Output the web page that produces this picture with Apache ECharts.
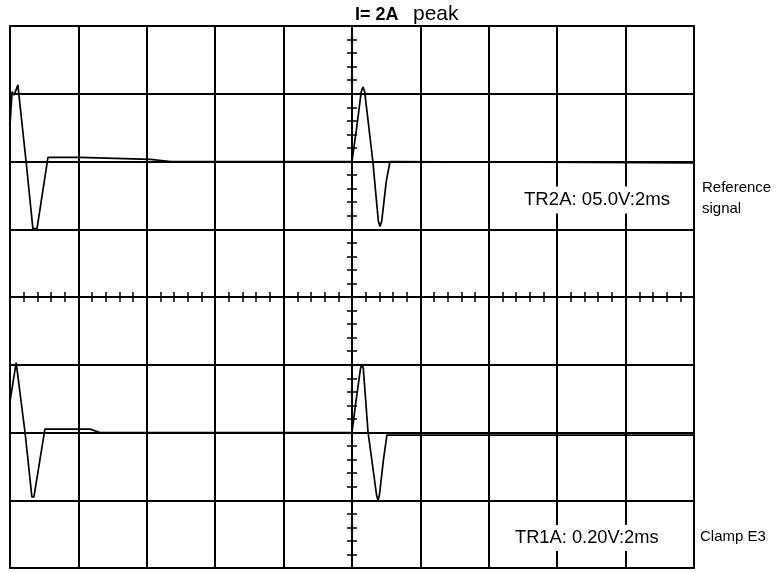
<!DOCTYPE html>
<html>
<head>
<meta charset="utf-8">
<script src="https://cdn.jsdelivr.net/npm/echarts@6/dist/echarts.min.js"></script>
<style>
html,body{margin:0;padding:0;background:#fff;}
#chart{width:782px;height:573px;}
</style>
</head>
<body>
<div id="chart"></div>
<script>
// Time axis: ms (2 ms/div), trigger at centre
const xMin = -10, xMax = 10, xStep = 2;
// Vertical axis: divisions
const yMin = -4, yMax = 4, yStep = 1;

// Reference signal (TR2A, 5.0 V/div)
const topT = [-10, -9.94, -9.88, -9.77, -9.53, -9.33, -9.21, -8.89, -7.95, -5.9, -5.3, 0.0, 0.15, 0.27, 0.32, 0.37, 0.61, 0.77, 0.82, 0.87, 1.0, 1.11, 10];
const topV = [2.53, 3.03, 2.98, 3.13, 2.0, 1.01, 1.01, 2.06, 2.06, 2.03, 2.0, 2.0, 2.55, 3.03, 3.1, 3.03, 2.0, 1.12, 1.04, 1.12, 1.7, 2.0, 1.98];

// Clamp E3 (TR1A, 0.20 V/div)
const botT = [-10, -9.82, -9.56, -9.36, -9.30, -8.98, -7.66, -7.37, 0.0, 0.1, 0.25, 0.29, 0.33, 0.47, 0.72, 0.76, 0.80, 0.92, 1.02, 10];
const botV = [-1.54, -0.97, -2.0, -2.95, -2.95, -1.95, -1.95, -2.0, -2.0, -1.6, -1.05, -1.0, -1.05, -2.0, -2.93, -3.0, -2.93, -2.4, -2.04, -2.04];

const titleMain = 'I= 2A';
const titleSub = 'peak';
const topScale = 'TR2A: 05.0V:2ms';
const botScale = 'TR1A: 0.20V:2ms';
const topName = ['Reference', 'signal'];
const botName = 'Clamp E3';

const pairs = (t, v) => t.map((x, i) => [x, v[i]]);

const black = '#000';
const tickStyle = { color: black, width: 1.5 };
function centreAxis(base) {
  return Object.assign({
    type: 'value',
    axisLine: { show: true, onZero: true, onZeroAxisIndex: 0, lineStyle: { color: black, width: 2 } },
    axisTick: { show: true, length: 5, lineStyle: tickStyle },
    minorTick: { show: true, splitNumber: 5, length: 5, lineStyle: tickStyle },
    axisLabel: { show: false },
    splitLine: { show: false }
  }, base);
}
const gridSplit = { show: true, lineStyle: { color: black, width: 2 } };

const chart = echarts.init(document.getElementById('chart'), null, { renderer: 'canvas' });
chart.setOption({
  animation: false,
  backgroundColor: '#fff',
  grid: { left: 10, right: 88, top: 26, bottom: 5, show: true, borderColor: black, borderWidth: 2, containLabel: false },
  xAxis: [
    centreAxis({ min: xMin, max: xMax, interval: xStep, position: 'bottom', splitLine: gridSplit }),
    centreAxis({ min: xMin, max: xMax, interval: xStep, position: 'top' })
  ],
  yAxis: [
    centreAxis({ min: yMin, max: yMax, interval: yStep, position: 'left', splitLine: gridSplit }),
    centreAxis({ min: yMin, max: yMax, interval: yStep, position: 'right' })
  ],
  series: [
    { type: 'line', data: pairs(topT, topV), xAxisIndex: 0, yAxisIndex: 0, showSymbol: false, symbol: 'none',
      lineStyle: { color: black, width: 1.7 }, z: 5 },
    { type: 'line', data: pairs(botT, botV), xAxisIndex: 0, yAxisIndex: 0, showSymbol: false, symbol: 'none',
      lineStyle: { color: black, width: 1.7 }, z: 5 }
  ],
  graphic: [
    { type: 'text', x: 355, y: 15, z: 100,
      style: { text: titleMain, font: 'bold 18px "Liberation Sans"', fill: black, align: 'left', verticalAlign: 'middle' } },
    { type: 'text', x: 413, y: 14.5, z: 100,
      style: { text: titleSub, font: '21px "Liberation Sans"', fill: black, align: 'left', verticalAlign: 'middle' } },
    { type: 'text', x: 522, y: 200, z: 100,
      style: { text: topScale, font: '18.6px "Liberation Sans"', fill: black, align: 'left', verticalAlign: 'middle',
        backgroundColor: '#fff', padding: [4, 2] } },
    { type: 'text', x: 513, y: 538, z: 100,
      style: { text: botScale, font: '18.3px "Liberation Sans"', fill: black, align: 'left', verticalAlign: 'middle',
        backgroundColor: '#fff', padding: [4, 2] } },
    { type: 'text', x: 702, y: 188, z: 100,
      style: { text: topName[0], font: '15px "Liberation Sans"', fill: black, align: 'left', verticalAlign: 'middle' } },
    { type: 'text', x: 702, y: 209, z: 100,
      style: { text: topName[1], font: '15px "Liberation Sans"', fill: black, align: 'left', verticalAlign: 'middle' } },
    { type: 'text', x: 700, y: 537, z: 100,
      style: { text: botName, font: '15px "Liberation Sans"', fill: black, align: 'left', verticalAlign: 'middle' } }
  ]
});
</script>
</body>
</html>
